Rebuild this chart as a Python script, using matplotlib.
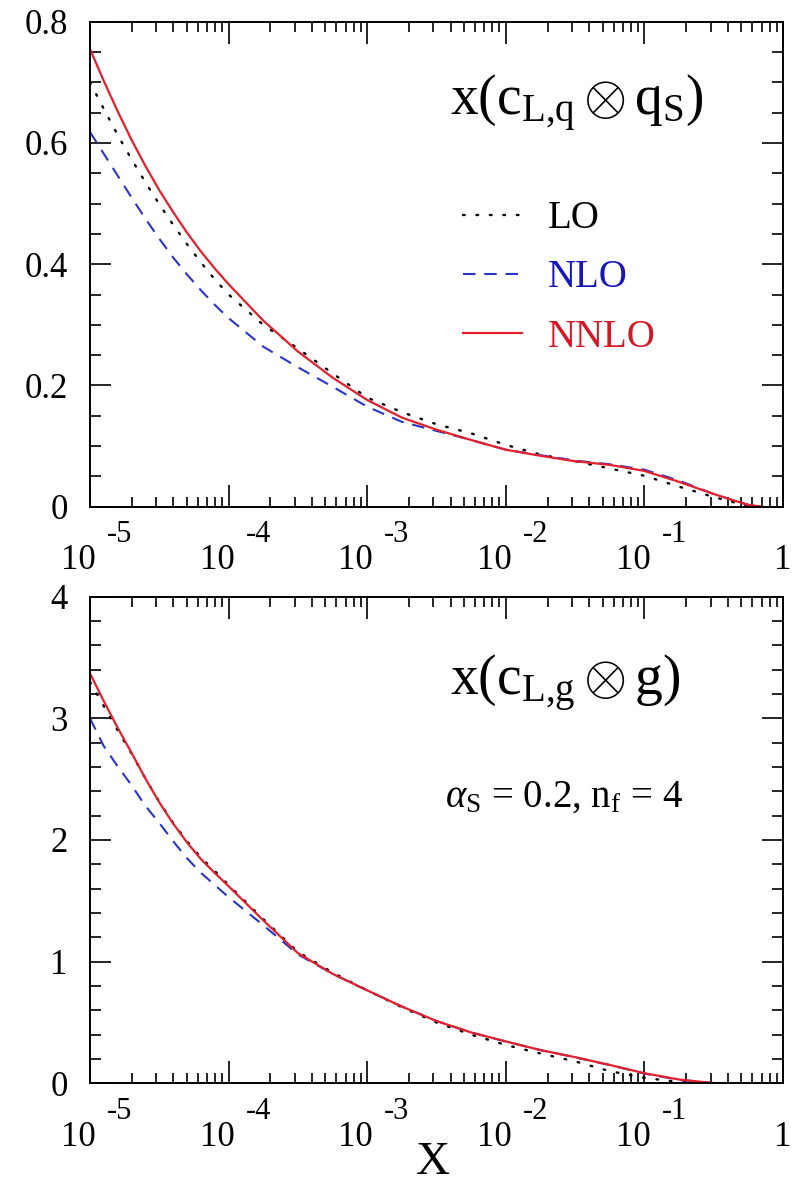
import numpy as np
import matplotlib
matplotlib.use('Agg')
import matplotlib.pyplot as plt
from matplotlib.ticker import MultipleLocator, LogLocator, NullFormatter, FixedFormatter, FixedLocator
from matplotlib.transforms import offset_copy

plt.rcParams['font.family'] = ['Liberation Serif', 'DejaVu Serif']
plt.rcParams['mathtext.fontset'] = 'custom'
plt.rcParams['mathtext.rm'] = 'Liberation Serif'
plt.rcParams['mathtext.it'] = 'Liberation Serif:italic'
plt.rcParams['mathtext.bf'] = 'Liberation Serif:bold'
plt.rcParams['mathtext.fallback'] = 'cm'

# ---------------- data ----------------
# log10(x) grid points
logx_top = [-5.0, -4.9, -4.8, -4.7, -4.6, -4.5, -4.4, -4.3, -4.2, -4.1, -4.0,
            -3.75, -3.5, -3.25, -3.0, -2.75, -2.5, -2.25, -2.0, -1.75, -1.5,
            -1.25, -1.0, -0.75, -0.5, -0.35, -0.25, -0.15]
top_lo = [0.700, 0.656, 0.613, 0.573, 0.535, 0.499, 0.465, 0.433, 0.403, 0.375, 0.350,
          0.300, 0.261, 0.220, 0.180, 0.156, 0.136, 0.121, 0.102, 0.086, 0.075,
          0.063, 0.051, 0.033, 0.016, 0.007, 0.001, 0.0]
top_nlo = [0.618, 0.582, 0.546, 0.510, 0.475, 0.442, 0.411, 0.383, 0.357, 0.333, 0.311,
           0.264, 0.230, 0.198, 0.165, 0.140, 0.125, 0.110, 0.094, 0.085, 0.076,
           0.070, 0.061, 0.043, 0.021, 0.010, 0.003, 0.0]
top_nnlo = [0.755, 0.702, 0.652, 0.605, 0.562, 0.522, 0.486, 0.452, 0.421, 0.393, 0.367,
            0.307, 0.256, 0.213, 0.176, 0.147, 0.127, 0.110, 0.094, 0.084, 0.075,
            0.069, 0.059, 0.041, 0.021, 0.010, 0.003, 0.0]

logx_bot = [-5.0, -4.9, -4.8, -4.7, -4.6, -4.5, -4.4, -4.3, -4.2, -4.1, -4.0,
            -3.75, -3.5, -3.25, -3.0, -2.75, -2.5, -2.25, -2.0, -1.75, -1.5,
            -1.25, -1.0, -0.75, -0.5, -0.25, 0.0]
bot_lo = [3.30, 3.10, 2.90, 2.71, 2.505, 2.315, 2.14, 1.99, 1.855, 1.745, 1.63,
          1.35, 1.08, 0.91, 0.765, 0.625, 0.50, 0.40, 0.315, 0.245, 0.18,
          0.10, 0.045, 0.010, 0.0, 0.0, 0.0]
bot_nlo = [3.00, 2.77, 2.605, 2.45, 2.28, 2.14, 1.99, 1.85, 1.73, 1.63, 1.53,
           1.30, 1.06, 0.90, 0.764, 0.631, 0.512, 0.418, 0.344, 0.273, 0.213,
           0.150, 0.080, 0.028, 0.002, 0.0, 0.0]
bot_nnlo = [3.37, 3.14, 2.922, 2.716, 2.505, 2.309, 2.135, 1.98, 1.843, 1.729, 1.62,
            1.34, 1.07, 0.90, 0.764, 0.631, 0.512, 0.418, 0.344, 0.273, 0.215,
            0.151, 0.083, 0.031, 0.002, 0.0, 0.0]

series_labels = ['LO', 'NLO', 'NNLO']
x_decades = [-5, -4, -3, -2, -1]
top_yticks = [0, 0.2, 0.4, 0.6, 0.8]
top_yticklabels = ['0', '0.2', '0.4', '0.6', '0.8']
bot_yticks = [0, 1, 2, 3, 4]
bot_yticklabels = ['0', '1', '2', '3', '4']

# ---------------- styling ----------------
c_lo = 'black'
c_nlo = '#2a35c8'
c_nnlo = '#e3202c'
txt_nlo = '#1515c0'
txt_nnlo = '#d81525'

W, H = 798, 1185
fig = plt.figure(figsize=(W / 100, H / 100), dpi=100)

def ax_rect(left_px, right_px, top_px, bottom_px):
    return [left_px / W, 1 - bottom_px / H, (right_px - left_px) / W, (bottom_px - top_px) / H]

ax1 = fig.add_axes(ax_rect(90, 783, 21.7, 506.7))
ax2 = fig.add_axes(ax_rect(90, 783, 596.7, 1083.3))

def style_axis(ax, yticks, ylabels, yminor, ymax):
    ax.set_xscale('log')
    ax.set_xlim(1e-5, 1)
    ax.set_ylim(0, ymax)
    ax.xaxis.set_major_locator(LogLocator(base=10, numticks=10))
    ax.xaxis.set_minor_locator(LogLocator(base=10, subs=np.arange(2, 10), numticks=20))
    ax.xaxis.set_major_formatter(NullFormatter())
    ax.xaxis.set_minor_formatter(NullFormatter())
    ax.yaxis.set_major_locator(FixedLocator(yticks))
    ax.yaxis.set_major_formatter(FixedFormatter(ylabels))
    ax.yaxis.set_minor_locator(MultipleLocator(yminor))
    ax.tick_params(which='both', direction='in', top=True, right=True, width=1.2, color='black')
    ax.tick_params(axis='x', which='major', length=16)
    ax.tick_params(axis='x', which='minor', length=7.5)
    ax.tick_params(axis='y', which='major', length=15)
    ax.tick_params(axis='y', which='minor', length=8)
    ax.tick_params(axis='y', which='major', labelsize=25, pad=16)
    for s in ax.spines.values():
        s.set_linewidth(1.4)
    # decade labels "10" with raised exponent
    tr_base = offset_copy(ax.get_xaxis_transform(), fig=fig, x=6, y=-54, units='dots')
    tr_exp = offset_copy(ax.get_xaxis_transform(), fig=fig, x=17, y=-28, units='dots')
    tr_one = offset_copy(ax.get_xaxis_transform(), fig=fig, x=0, y=-54, units='dots')
    for e in x_decades:
        ax.text(10.0 ** e, 0, '10', transform=tr_base, ha='right', va='center', fontsize=25)
        ax.text(10.0 ** e, 0, '-%d' % (-e), transform=tr_exp, ha='left', va='center', fontsize=22)
    ax.text(1.0, 0, '1', transform=tr_one, ha='center', va='center', fontsize=25)

def draw(ax, logx, lo, nlo, nnlo):
    x = 10.0 ** np.array(logx)
    l1, = ax.plot(x, lo, color=c_lo, lw=1.7, linestyle=(0, (0.7, 5.0)), dash_capstyle='round',
                  label=series_labels[0])
    l2, = ax.plot(x, nlo, color=c_nlo, lw=1.5, linestyle=(0, (6.0, 4.2)), label=series_labels[1])
    l3, = ax.plot(x, nnlo, color=c_nnlo, lw=1.6, label=series_labels[2])
    return [l1, l2, l3]

handles = draw(ax1, logx_top, top_lo, top_nlo, top_nnlo)
draw(ax2, logx_bot, bot_lo, bot_nlo, bot_nnlo)

style_axis(ax1, top_yticks, top_yticklabels, 0.05, 0.8)
style_axis(ax2, bot_yticks, bot_yticklabels, 0.2, 4)

leg = ax1.legend(handles=handles, loc='center left', bbox_to_anchor=(0.538, 0.4716),
                 frameon=False, fontsize=28, handlelength=1.52, handletextpad=0.67,
                 labelspacing=0.57, borderpad=0, borderaxespad=0)
for t, c in zip(leg.get_texts(), [c_lo, txt_nlo, txt_nnlo]):
    t.set_color(c)

ax1.text(0.519, 0.808, r'$\mathrm{x(c_{L{,}q}\otimes q_S)}$', transform=ax1.transAxes,
         ha='left', va='baseline', fontsize=40)
ax2.text(0.519, 0.798, r'$\mathrm{x(c_{L{,}g}\otimes g)}$', transform=ax2.transAxes,
         ha='left', va='baseline', fontsize=40)
ax2.text(0.512, 0.568, r'$\alpha_{\mathrm{S}}$ = 0.2, n$_{\mathrm{f}}$ = 4', transform=ax2.transAxes,
         ha='left', va='baseline', fontsize=28)

fig.text(433 / W, 1 - 1163 / H, 'X', ha='center', va='center', fontsize=34)

fig.savefig('out.png', dpi=100)
